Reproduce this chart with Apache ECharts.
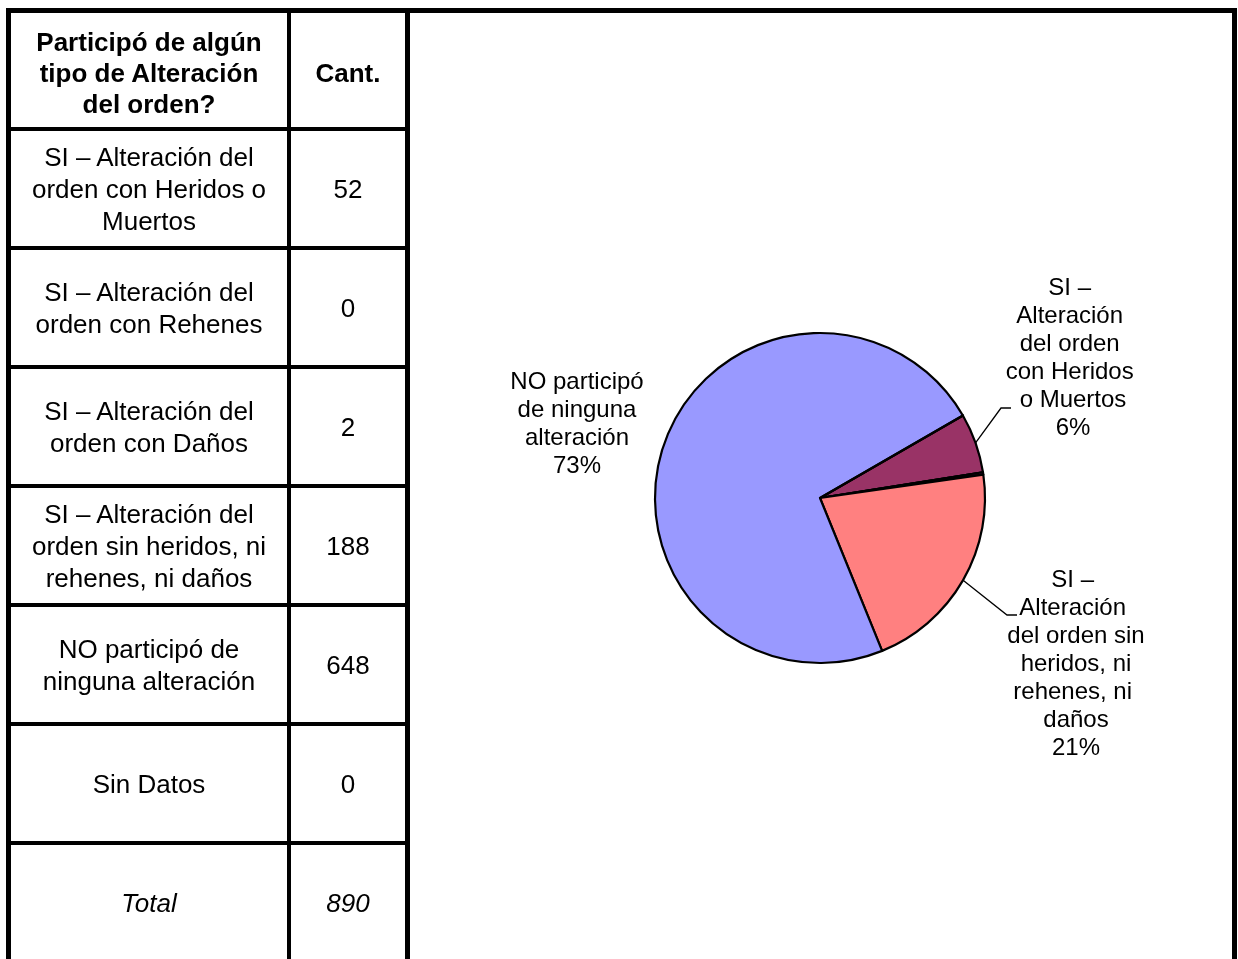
<!DOCTYPE html>
<html>
<head>
<meta charset="utf-8">
<title>Alteración del orden</title>
<script src="https://cdn.jsdelivr.net/npm/echarts@6/dist/echarts.min.js"></script>
<style>
html, body { margin: 0; padding: 0; background: #fff; }
#page {
  position: relative;
  width: 1238px;
  height: 959px;
  overflow: hidden;
  font-family: 'Liberation Sans', Arial, sans-serif;
  color: #000;
}
#chart { position: absolute; left: 0; top: 0; width: 1238px; height: 959px; }
.ln { position: absolute; background: #000; }
.cell {
  position: absolute;
  display: flex;
  align-items: center;
  justify-content: center;
  text-align: center;
  box-sizing: border-box;
  padding: 0 12px;
  font-size: 26px;
  line-height: 32px;
}
.head { font-weight: bold; line-height: 31px; padding-top: 6px; }
.tot { font-style: italic; }
</style>
</head>
<body>
<div id="page">
  <div id="chart"></div>
</div>
<script>
// datos de la tabla / torta
const headers = ['Participó de algún tipo de Alteración del orden?', 'Cant.']
const categories = [
  'SI – Alteración del orden con Heridos o Muertos',
  'SI – Alteración del orden con Rehenes',
  'SI – Alteración del orden con Daños',
  'SI – Alteración del orden sin heridos, ni rehenes, ni daños',
  'NO participó de ninguna alteración',
  'Sin Datos'
]
const counts = [52, 0, 2, 188, 648, 0]
const totalLabel = 'Total'

// estilos
const sliceColors = ['#993366', '#FFFFCC', '#660066', '#FF8080', '#9999FF', '#CCFFFF']
const CX = 820
const CY = 498
// posicion de etiquetas (centro del texto) respecto del centro de la torta
const labelPlace = {
  0: { dx: 253, dy: -140, hook: [-62, 50] },
  3: { dx: 256, dy: 166, hook: [-59, -49] },
  4: { dx: -243, dy: -74 }
}

// ---- tabla ----
const page = document.getElementById('page')
function addLine (left, top, width, height) {
  const d = document.createElement('div')
  d.className = 'ln'
  d.style.left = left + 'px'
  d.style.top = top + 'px'
  d.style.width = width + 'px'
  d.style.height = height + 'px'
  page.appendChild(d)
}
function addCell (cls, text, left, top, width, height) {
  const d = document.createElement('div')
  d.className = 'cell ' + cls
  d.style.left = left + 'px'
  d.style.top = top + 'px'
  d.style.width = width + 'px'
  d.style.height = height + 'px'
  d.textContent = text
  page.appendChild(d)
}

const colX = [11, 291]
const colW = [276, 114]
const rowStep = 119
const firstLine = 127
const rows = categories.map((c, i) => [c, String(counts[i]), ''])
rows.push([totalLabel, String(counts.reduce((a, b) => a + b, 0)), 'tot'])

// encabezado
addCell('head', headers[0], colX[0], 13, colW[0], firstLine - 13)
addCell('head', headers[1], colX[1], 13, colW[1], firstLine - 13)
rows.forEach(function (r, i) {
  const top = firstLine + i * rowStep + 4
  addCell(r[2], r[0], colX[0], top, colW[0], rowStep - 4)
  addCell(r[2], r[1], colX[1], top, colW[1], rowStep - 4)
})

// bordes
addLine(6, 8, 1231, 5)
for (let i = 0; i <= rows.length; i++) {
  addLine(6, firstLine + i * rowStep, 404, 4)
}
addLine(6, 8, 5, 960)
addLine(287, 8, 4, 960)
addLine(405, 8, 5, 960)
addLine(1232, 8, 5, 960)

// ---- torta ----
const chart = echarts.init(document.getElementById('chart'), null, { renderer: 'canvas' })
const option = {
  animation: false,
  backgroundColor: 'transparent',
  series: [{
    type: 'pie',
    center: [CX, CY],
    radius: 165,
    startAngle: 30,
    clockwise: true,
    avoidLabelOverlap: false,
    minShowLabelAngle: 2,
    percentPrecision: 0,
    itemStyle: { borderColor: '#000', borderWidth: 2.2 },
    emphasis: { disabled: true },
    label: {
      show: true,
      position: 'outside',
      formatter: '{b}\n{d}%',
      width: 141,
      overflow: 'break',
      fontFamily: "'Liberation Sans', Arial, sans-serif",
      fontSize: 24,
      lineHeight: 28,
      color: '#000'
    },
    labelLine: {
      show: true,
      length: 20,
      length2: 10,
      lineStyle: { color: '#000', width: 1.3 }
    },
    labelLayout: function (params) {
      const p = labelPlace[params.dataIndex]
      if (!p) return {}
      const x = CX + p.dx
      const y = CY + p.dy
      const out = { x: x, y: y, align: 'center', verticalAlign: 'middle' }
      if (p.hook && params.labelLinePoints) {
        const start = params.labelLinePoints[0]
        const hx = x + p.hook[0]
        const hy = y + p.hook[1]
        out.labelLinePoints = [start, [hx - 10, hy], [hx, hy]]
      }
      return out
    },
    data: categories.map(function (name, i) {
      const item = {
        name: name,
        value: counts[i],
        itemStyle: { color: sliceColors[i] }
      }
      if (i === 4) {
        // sin linea guia en la etiqueta grande
        item.label = { width: 150 }
        item.labelLine = { lineStyle: { opacity: 0 } }
      }
      return item
    })
  }]
}
chart.setOption(option)
</script>
</body>
</html>
